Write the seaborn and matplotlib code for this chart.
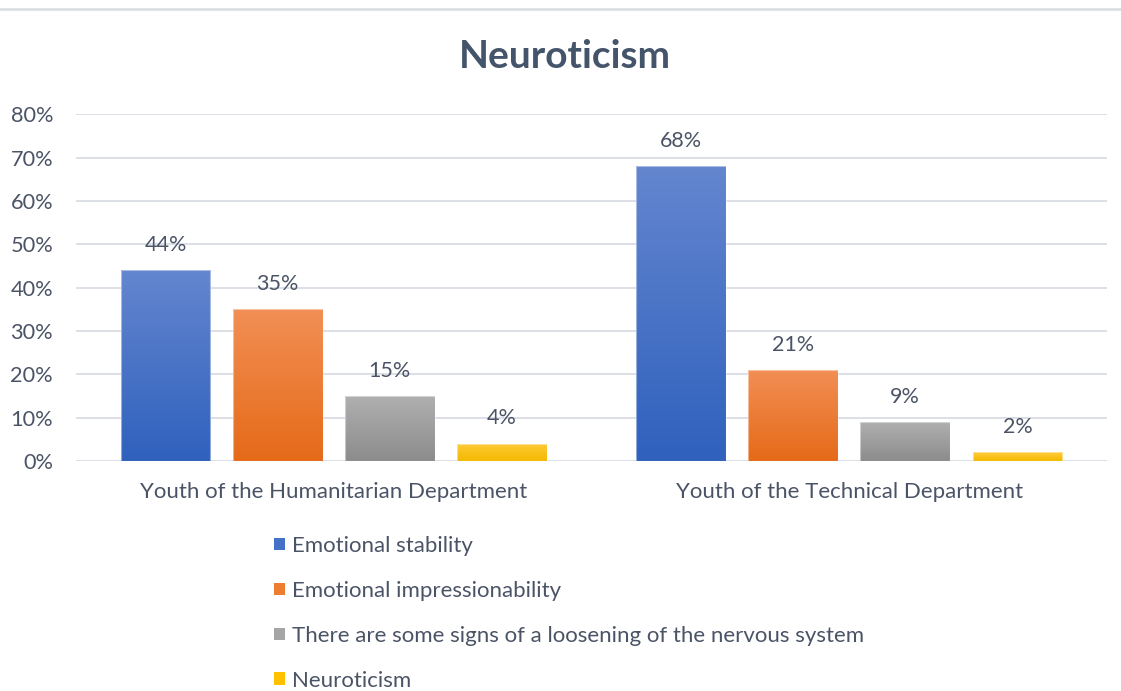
import numpy as np
import pandas as pd
import matplotlib
matplotlib.use("Agg")
import matplotlib.pyplot as plt
from matplotlib.colors import LinearSegmentedColormap
from matplotlib.lines import Line2D
from matplotlib.patches import Patch
import seaborn as sns

# Data
groups = ["Youth of the Humanitarian Department", "Youth of the Technical Department"]
series = [
    "Emotional stability",
    "Emotional impressionability",
    "There are some signs of a loosening of the nervous system",
    "Neuroticism",
]
humanitarian = [44, 35, 15, 4]
technical = [68, 21, 9, 2]
yticks = [0, 10, 20, 30, 40, 50, 60, 70, 80]

# Office-style gradient fills (top colour, bottom colour) and flat legend colours
base_colors = ["#4472C4", "#ED7D31", "#A5A5A5", "#FFC000"]
grad_colors = [
    ("#6486CF", "#2F61BD"),
    ("#F28F55", "#E56A18"),
    ("#B0B0B0", "#8C8C8C"),
    ("#FFCB38", "#F4B900"),
]

TEXT = "#4B5466"
TITLE = "#44546A"
GRID = "#DCE0E6"

df = pd.DataFrame({
    "group": [groups[0]] * len(series) + [groups[1]] * len(series),
    "series": series + series,
    "value": humanitarian + technical,
})

sns.set_theme(style="white")
plt.rcParams["font.family"] = ["Lato", "DejaVu Sans"]

fig = plt.figure(figsize=(11.21, 6.91), dpi=100)
ax = fig.add_axes([76 / 1121, 1 - 461 / 691, (1107 - 76) / 1121, (461 - 114.3) / 691])

sns.barplot(
    data=df, x="group", y="value", hue="series", order=groups, hue_order=series,
    palette=base_colors, width=0.87, gap=0.2, ax=ax, legend=False, zorder=3,
)

# Replace the flat fills with vertical gradients clipped to each bar
for container, (top, bottom) in zip(ax.containers, grad_colors):
    cmap = LinearSegmentedColormap.from_list("g", [bottom, top])
    for patch in container:
        x0, y0 = patch.get_x(), patch.get_y()
        w, h = patch.get_width(), patch.get_height()
        grad = np.linspace(0, 1, 256).reshape(-1, 1)
        im = ax.imshow(grad, extent=(x0, x0 + w, y0, y0 + h), origin="lower",
                       aspect="auto", cmap=cmap, zorder=3)
        im.set_clip_path(patch)
        patch.set_facecolor("none")
        patch.set_edgecolor((1, 1, 1, 0.45))
        patch.set_linewidth(0.8)
        patch.set_zorder(4)
    ax.bar_label(container, labels=[f"{v:.0f}%" for v in container.datavalues],
                 padding=11, fontsize=15.5, color=TEXT)

ax.set_xlim(-0.5, 1.5)
ax.set_ylim(0, 80)
ax.set_yticks(yticks)
ax.set_yticklabels([f"{t}%" for t in yticks])
ax.yaxis.grid(True, color=GRID, linewidth=1.4, zorder=0)
ax.set_axisbelow(True)
for s in ax.spines.values():
    s.set_visible(False)
ax.tick_params(axis="y", length=0, pad=16.5, labelsize=15.7, labelcolor=TEXT)
ax.tick_params(axis="x", length=0, pad=15, labelsize=16, labelcolor=TEXT)
ax.set_xlabel("")
ax.set_ylabel("")

fig.text(0.504, 1 - 57 / 691, "Neuroticism", ha="center", va="center",
         fontsize=28, fontweight="bold", color=TITLE)

handles = [Patch(facecolor=c, edgecolor="none") for c in base_colors]
fig.legend(handles, series, loc="upper left", bbox_to_anchor=(274 / 1121, 1 - 536 / 691),
           frameon=False, fontsize=16, labelcolor=TEXT, borderpad=0, borderaxespad=0,
           handlelength=0.5, handleheight=0.5, handletextpad=0.3, labelspacing=1.12)

# Thin rule across the top of the canvas
fig.add_artist(Line2D([0, 1], [1 - 8.5 / 691] * 2, transform=fig.transFigure,
                      color="#D9DCE1", linewidth=1.8))

fig.savefig("out.png", dpi=100, facecolor="white")
